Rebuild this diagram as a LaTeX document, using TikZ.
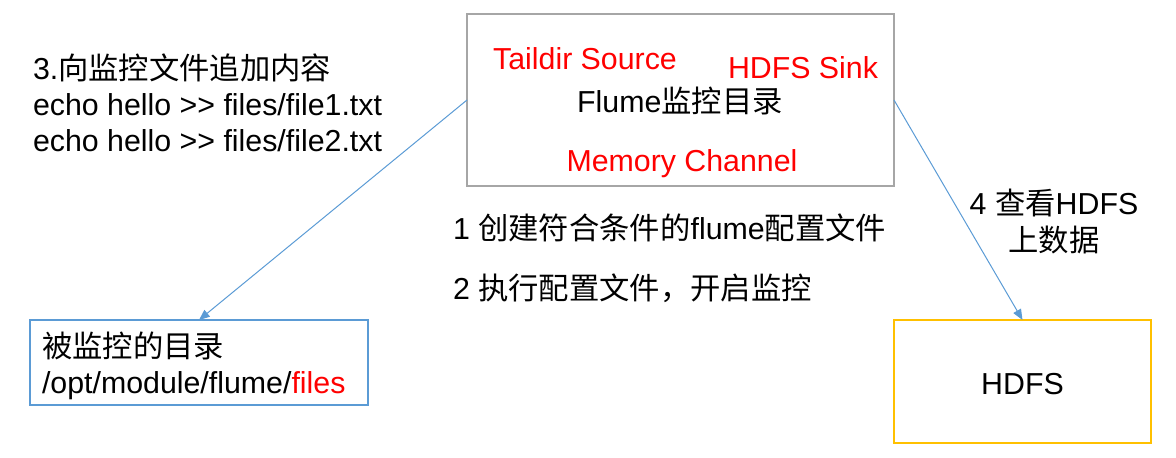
\documentclass[tikz,border=0pt]{standalone}
\usepackage{fontspec}
\setmainfont{Liberation Sans}
\newfontfamily\cjk{Noto Sans CJK SC}
\usetikzlibrary{arrows.meta}
\newcommand{\zh}[1]{{\cjk #1}}
\definecolor{linkblue}{HTML}{5B9BD5}
\definecolor{boxgray}{HTML}{A6A6A6}
\definecolor{hdfsyellow}{HTML}{FFC000}
\definecolor{txtred}{HTML}{FF0000}
\begin{document}
\begin{tikzpicture}[x=0.75pt,y=-0.75pt,
  every node/.style={font=\fontsize{22.75}{27}\selectfont, inner sep=0pt, outer sep=0pt},
  lbl/.style={anchor=base west},
  clbl/.style={anchor=base},
  redlbl/.style={anchor=base, text=txtred},
  flumebox/.style={draw=boxgray, line width=1.1pt, minimum width=320.25pt, minimum height=129pt},
  monbox/.style={draw=linkblue, line width=1.1pt, minimum width=253.5pt, minimum height=63.75pt},
  hdfsbox/.style={draw=hdfsyellow, line width=1.5pt, minimum width=192.75pt, minimum height=92.25pt},
  link/.style={draw=linkblue, line width=0.75pt, -{Triangle[length=8pt,width=6.5pt]}}]
\useasboundingbox (0,0) rectangle (1176,457);
% boxes
\node[flumebox] (flume) at (680.5,100) {};
\node[monbox] (mon) at (199,362.5) {};
\node[hdfsbox] (hdfs) at (1022.5,381.5) {};
% flume contents
\node[redlbl] (src) at (585,69) {Taildir Source};
\node[redlbl] (sink) at (803,78) {HDFS Sink};
\node[clbl] (ftitle) at (680,112) {Flume\zh{监控目录}};
\node[redlbl] (chan) at (682,171) {Memory Channel};
% left text
\node[lbl] (t1) at (33,79) {3.\zh{向监控文件追加内容}};
\node[lbl] (t2) at (33,115) {echo hello >{}> files/file1.txt};
\node[lbl] (t3) at (33,151) {echo hello >{}> files/file2.txt};
% middle steps
\node[lbl] (s1) at (453,239) {1 \zh{创建符合条件的}flume\zh{配置文件}};
\node[lbl] (s2) at (453,299) {2 \zh{执行配置文件，开启监控}};
% right step
\node[clbl] (s4a) at (1054,214) {4 \zh{查看}HDFS};
\node[clbl] (s4b) at (1054,251) {\zh{上数据}};
% monitored dir text
\node[lbl] (m1) at (42,357) {\zh{被监控的目录}};
\node[lbl] (m2) at (42,393) {/opt/module/flume/\textcolor{txtred}{files}};
% hdfs text
\node[clbl] (htxt) at (1022.5,394) {HDFS};
% connectors
\draw[link] (flume.west) -- (mon.north);
\draw[link] (flume.east) -- (hdfs.north);
\end{tikzpicture}
\end{document}
